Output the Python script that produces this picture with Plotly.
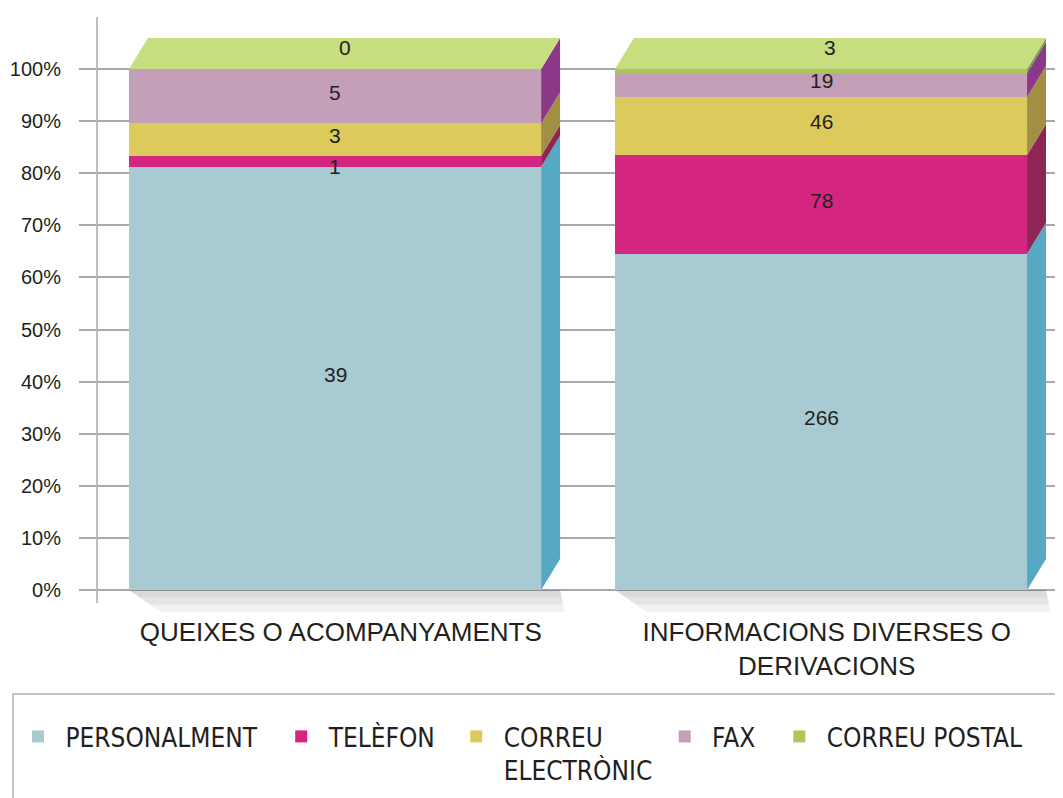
import plotly.graph_objects as go

# ---------------- data ----------------
categories = ["QUEIXES O ACOMPANYAMENTS", "INFORMACIONS DIVERSES O<br>DERIVACIONS"]
series_names = ["PERSONALMENT", "TELÈFON", "CORREU<br>ELECTRÒNIC", "FAX", "CORREU POSTAL"]
personalment = [39, 266]
telefon = [1, 78]
correu_electronic = [3, 46]
fax = [5, 19]
correu_postal = [0, 3]
y_tick_values = [0, 10, 20, 30, 40, 50, 60, 70, 80, 90, 100]

# ---------------- styles ----------------
front_colors = ["#a8cad3", "#d42680", "#dccb5c", "#c4a0b8", "#adc65a"]
side_colors = ["#56a8c3", "#8e2655", "#a08f45", "#8c3888", "#7a9a4a"]
top_color = "#c6dd80"
grid_color = "#a8a8a8"
text_color = "#231f20"
BAR_W = 0.848      # bar width in category units
DX = 0.039         # depth offset along x (category units)
DY = 5.95          # depth offset along y (percent units)
SHD_X = 0.065
SHD_Y = 4.3
NB = "\u00a0"
EN = "\u2002"
THIN = "\u2009"
legend_pad = [EN + NB, EN + THIN, NB, EN + NB, ""]

values = [personalment, telefon, correu_electronic, fax, correu_postal]
n_cat = len(categories)
totals = [sum(v[i] for v in values) for i in range(n_cat)]
pct = [[v[i] / totals[i] * 100 for i in range(n_cat)] for v in values]
xpos = list(range(n_cat))

fig = go.Figure()

# floor shadows (gradient from layered translucent polygons)
for i in xpos:
    xl, xr = i - BAR_W / 2, i + BAR_W / 2
    for k in (1.0, 0.66, 0.33):
        fig.add_trace(go.Scatter(
            x=[xl, xr + DX, xr + DX + SHD_X * 0.15 * k, xl + SHD_X * k, xl],
            y=[0, 0, -SHD_Y * k, -SHD_Y * k, 0],
            mode="lines", fill="toself", fillcolor="rgba(0,0,0,0.05)",
            line=dict(width=0), hoverinfo="skip", showlegend=False))

# front faces
for s, name in enumerate(series_names):
    lbl = NB + name.replace("<br>", "<br>" + NB) + legend_pad[s]
    fig.add_trace(go.Bar(
        x=xpos, y=pct[s], width=BAR_W, name=lbl,
        marker=dict(color=front_colors[s], line=dict(width=0)),
        customdata=values[s], hovertemplate="%{customdata}<extra></extra>"))

# side faces and top faces
for i in xpos:
    xl, xr = i - BAR_W / 2, i + BAR_W / 2
    cum = 0.0
    for s in range(len(values)):
        y0, y1 = cum, cum + pct[s][i]
        fig.add_trace(go.Scatter(
            x=[xr, xr, xr + DX, xr + DX, xr],
            y=[y0, y1, y1 + DY, y0 + DY, y0],
            mode="lines", fill="toself", fillcolor=side_colors[s],
            line=dict(width=0), hoverinfo="skip", showlegend=False))
        cum = y1
    fig.add_trace(go.Scatter(
        x=[xl, xr, xr + DX, xl + DX, xl],
        y=[cum, cum, cum + DY, cum + DY, cum],
        mode="lines", fill="toself", fillcolor=top_color,
        line=dict(width=0), hoverinfo="skip", showlegend=False))

# value labels
annotations = []
for i in xpos:
    cum = 0.0
    for s in range(len(values)):
        p = pct[s][i]
        if p < 1.5:
            ax, ay = i + DX / 2, cum + p + DY / 2 + 1.2
        elif p < 3:
            ax, ay = i, cum
        else:
            ax, ay = i, cum + p / 2 + 0.8
        annotations.append(dict(
            x=ax, y=ay, xref="x", yref="y", text=str(values[s][i]),
            showarrow=False, font=dict(family="Liberation Sans", size=21, color=text_color)))
        cum += p

# page coordinates (the page body adds an 8px offset)
OFF = 8
W, H = 1063 - OFF, 798 - OFF
PAGE_PLOT_TOP = 17
PAGE_PLOT_BOT = 616
PAGE_L = 97
plot_h = PAGE_PLOT_BOT - PAGE_PLOT_TOP
plot_w = 1063 - PAGE_L


def py(Y):
    return (PAGE_PLOT_BOT - Y) / plot_h


def px(X):
    return (X - PAGE_L) / plot_w


shapes = [
    # y-axis line
    dict(type="line", xref="paper", yref="y", x0=0, x1=0, y0=-2.5, y1=110,
         line=dict(color=grid_color, width=1.5), layer="below"),
    # legend frame
    dict(type="rect", xref="paper", yref="paper", x0=px(13), x1=px(1080),
         y0=py(694), y1=py(815), line=dict(color="#b0b0b0", width=1.5),
         fillcolor="rgba(0,0,0,0)"),
]

fig.update_layout(
    width=W, height=H,
    margin=dict(l=PAGE_L - OFF, r=0, t=PAGE_PLOT_TOP - OFF, b=798 - PAGE_PLOT_BOT,
                pad=0, autoexpand=False),
    paper_bgcolor="white", plot_bgcolor="white",
    barmode="stack", bargap=0,
    font=dict(family="Liberation Sans", color=text_color),
    xaxis=dict(
        range=[-0.49, 1.498], tickmode="array", tickvals=[i + DX * 0.3 for i in xpos],
        ticktext=categories,
        showgrid=False, zeroline=False, showline=False, ticks="",
        tickfont=dict(family="Liberation Sans", size=26, color=text_color),
        ticklabelstandoff=-2),
    yaxis=dict(
        range=[-5, 110], tickmode="array", tickvals=y_tick_values,
        ticktext=[f"{v}%" for v in y_tick_values],
        showgrid=True, gridcolor=grid_color, gridwidth=1.5, zeroline=False,
        showline=False, ticks="outside", ticklen=17, tickcolor=grid_color, tickwidth=1.5,
        tickfont=dict(family="Liberation Sans", size=20, color=text_color),
        ticklabelstandoff=14),
    legend=dict(
        orientation="h", x=px(18), y=py(713), xanchor="left", yanchor="top",
        font=dict(family="DejaVu Sans Condensed, Liberation Sans", size=26, color=text_color),
        valign="top", traceorder="normal", bgcolor="rgba(0,0,0,0)", borderwidth=0),
    annotations=annotations,
    shapes=shapes,
    showlegend=True,
)

fig.write_html("out.html")
